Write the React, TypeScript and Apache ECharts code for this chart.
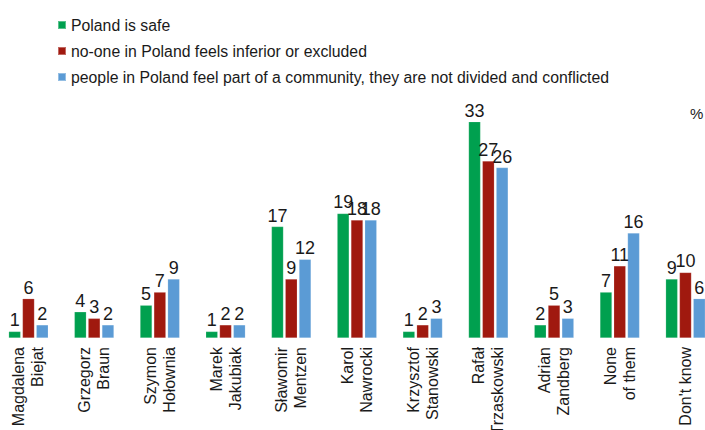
import React, { useEffect, useRef } from "react";
import * as echarts from "echarts";

const categories = [
  "Magdalena\nBiejat",
  "Grzegorz\nBraun",
  "Szymon\nHołownia",
  "Marek\nJakubiak",
  "Sławomir\nMentzen",
  "Karol\nNawrocki",
  "Krzysztof\nStanowski",
  "Rafał\nTrzaskowski",
  "Adrian\nZandberg",
  "None\nof them",
  "Don't know",
];

const seriesNames = [
  "Poland is safe",
  "no-one in Poland feels inferior or excluded",
  "people in Poland feel part of a community, they are not divided and conflicted",
];

const safeValues = [1, 4, 5, 1, 17, 19, 1, 33, 2, 7, 9];
const inferiorValues = [6, 3, 7, 2, 9, 18, 2, 27, 5, 11, 10];
const communityValues = [2, 2, 9, 2, 12, 18, 3, 26, 3, 16, 6];

const colors = ["#00A04F", "#A0190F", "#5B9BD5"];
const FONT = "'Liberation Sans', Arial, sans-serif";

export default function App() {
  const ref = useRef<HTMLDivElement>(null);
  useEffect(() => {
    if (!ref.current) return;
    const chart = echarts.init(ref.current, undefined, { renderer: "svg" });
    const allValues = [safeValues, inferiorValues, communityValues];
    chart.setOption({
      animation: false,
      textStyle: { fontFamily: FONT },
      legend: {
        orient: "vertical",
        left: 52,
        top: 12,
        itemWidth: 8,
        itemHeight: 8,
        itemGap: 10,
        icon: "rect",
        textStyle: { fontSize: 15.8, color: "#1a1a1a", fontFamily: FONT },
        data: seriesNames,
      },
      graphic: [
        {
          type: "text",
          left: 690,
          top: 106,
          style: { text: "%", fontSize: 15, fill: "#1a1a1a", fontFamily: FONT },
        },
      ],
      grid: {
        left: -4.4,
        top: 75.8,
        width: 722.7,
        height: 262.2,
        containLabel: false,
        outerBoundsMode: "none",
      },
      xAxis: {
        type: "category",
        data: categories,
        axisLine: { show: false },
        axisTick: { show: false },
        axisLabel: {
          interval: 0,
          rotate: 90,
          fontSize: 16,
          lineHeight: 19,
          color: "#1a1a1a",
          margin: 9,
          fontFamily: FONT,
        },
      },
      yAxis: { type: "value", min: 0, max: 40, show: false },
      series: seriesNames.map((name, i) => ({
        name,
        type: "bar",
        data: allValues[i],
        barWidth: 12,
        barGap: "15%",
        itemStyle: { color: colors[i], borderColor: "rgba(255,255,255,0.35)", borderWidth: 0.5 },
        label: {
          show: true,
          position: "top",
          distance: 2,
          fontSize: 18,
          color: "#1a1a1a",
          fontFamily: FONT,
        },
      })),
    });
    return () => chart.dispose();
  }, []);
  return (
    <div
      ref={ref}
      style={{ position: "absolute", left: 0, top: 0, width: 705, height: 430 }}
    />
  );
}
